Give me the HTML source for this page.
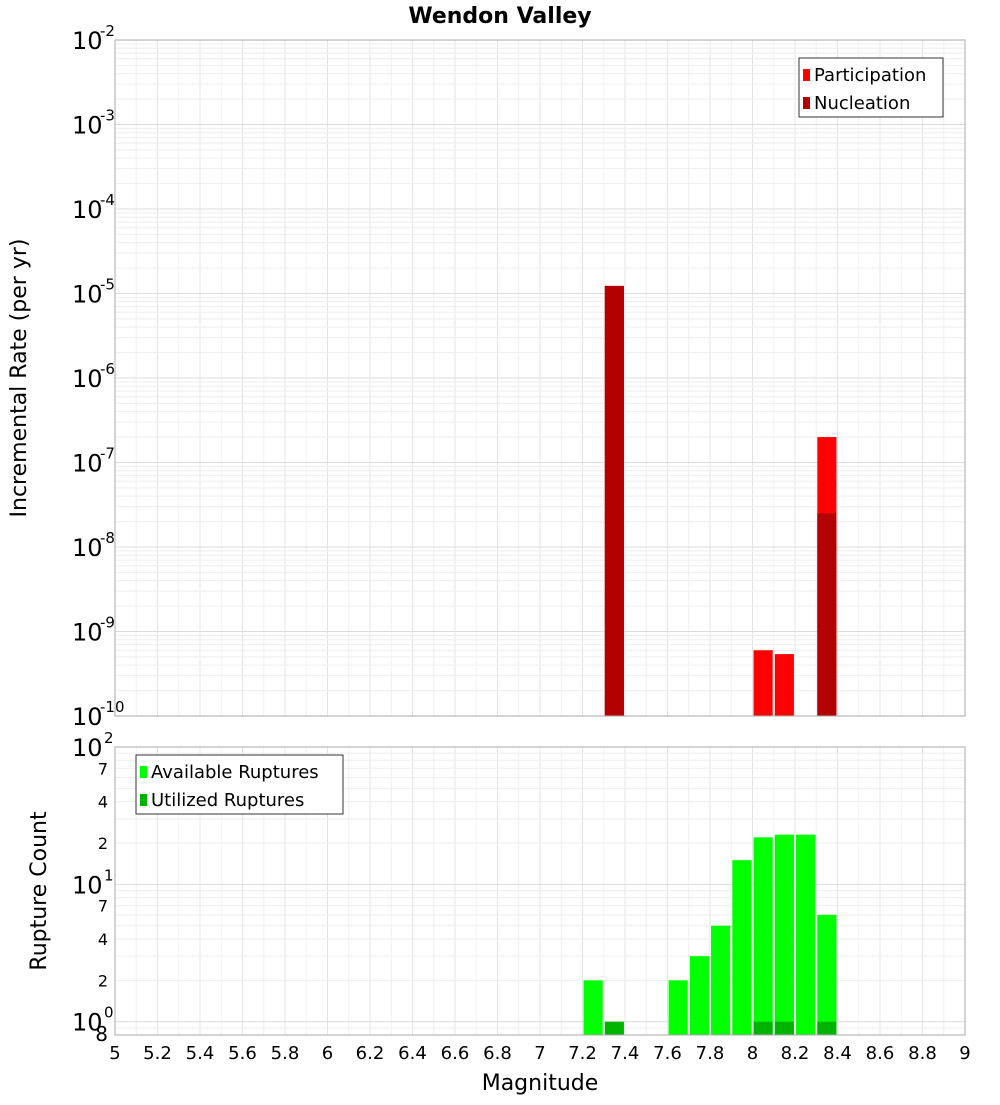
<!DOCTYPE html>
<html><head><meta charset="utf-8"><style>
body{margin:0;background:#fff;font-family:"Liberation Sans","DejaVu Sans",sans-serif}
svg text{font-family:"DejaVu Sans","Liberation Sans",sans-serif}
</style></head><body>
<svg id="c" width="1000" height="1100" xmlns="http://www.w3.org/2000/svg">
<text x="500" y="23" text-anchor="middle" font-size="22" font-weight="bold">Wendon Valley</text>
<text transform="translate(26,378) rotate(-90)" text-anchor="middle" font-size="22">Incremental Rate (per yr)</text>
<text transform="translate(46,891) rotate(-90)" text-anchor="middle" font-size="22">Rupture Count</text>
<text x="540" y="1090" text-anchor="middle" font-size="22">Magnitude</text>
</svg>
<script>
const magBins=[7.35,8.05,8.15,8.35];
const participation=[1.23e-5,6e-10,5.4e-10,2e-7];
const nucleation=[1.23e-5,0,0,2.5e-8];
const countBins=[7.25,7.35,7.65,7.75,7.85,7.95,8.05,8.15,8.25,8.35];
const available=[2,0,2,3,5,15,22,23,23,6];
const utilized=[0,1,0,0,0,0,1,1,0,1];
const xTicks=[5,5.2,5.4,5.6,5.8,6,6.2,6.4,6.6,6.8,7,7.2,7.4,7.6,7.8,8,8.2,8.4,8.6,8.8,9];
const topExps=[-2,-3,-4,-5,-6,-7,-8,-9,-10];

const svg=document.getElementById('c'),NS='http://www.w3.org/2000/svg';
function el(t,a,p){const e=document.createElementNS(NS,t);for(const k in a)e.setAttribute(k,a[k]);(p||svg).appendChild(e);return e;}
const X0=115,X1=965;
const x=m=>X0+(m-5)/4*(X1-X0);
const T0=40,T1=716;const yT=v=>T0+(-2-Math.log10(v))/8*(T1-T0);
const B0=747,B1=1035;const lb=Math.log10(0.8);const yB=v=>B0+(2-Math.log10(v))/(2-lb)*(B1-B0);
const BW=0.09;

// grids
function grid(top,bot,yfun,lo,hi){
  for(let m=5;m<=9.001;m+=0.1){const g=el('line',{x1:x(m),x2:x(m),y1:top,y2:bot,stroke:Math.abs(m*5-Math.round(m*5))<1e-6?'#e4e4e4':'#f0f0f0','stroke-width':1});
  }
  for(let e=lo;e<hi;e++)for(let k=1;k<10;k++){const v=k*Math.pow(10,e);const yy=yfun(v);if(yy<top-0.5||yy>bot+0.5)continue;
    const g=el('line',{x1:X0,x2:X1,y1:yy,y2:yy,stroke:k==1?'#dcdcdc':'#eeeeee','stroke-width':1});
    }
}
grid(T0,T1,yT,-10,-2);grid(B0,B1,yB,-1,2);

// top bars
magBins.forEach((m,i)=>{
  if(participation[i]>0){const r=el('rect',{x:x(m-BW/2),width:x(m+BW/2)-x(m-BW/2),y:yT(participation[i]),height:T1-yT(participation[i]),fill:'#ff0000'});
  }
  if(nucleation[i]>0){const r=el('rect',{x:x(m-BW/2),width:x(m+BW/2)-x(m-BW/2),y:yT(nucleation[i]),height:T1-yT(nucleation[i]),fill:'#b30000'});
  }
});
countBins.forEach((m,i)=>{
  if(available[i]>0){const r=el('rect',{x:x(m-BW/2),width:x(m+BW/2)-x(m-BW/2),y:yB(available[i]),height:B1-yB(available[i]),fill:'#00ff00'});
  }
  if(utilized[i]>0){const r=el('rect',{x:x(m-BW/2),width:x(m+BW/2)-x(m-BW/2),y:yB(utilized[i]),height:B1-yB(utilized[i]),fill:'#00b300'});
  }
});

// frames
let f=el('rect',{x:X0,y:T0,width:X1-X0,height:T1-T0,fill:'none',stroke:'#aaa'});

f=el('rect',{x:X0,y:B0,width:X1-X0,height:B1-B0,fill:'none',stroke:'#aaa'});


// top y ticks
topExps.forEach(e=>{const yy=yT(Math.pow(10,e));
  const t=el('text',{x:72,y:yy+9,'font-size':24});t.textContent='10';
  
  const s=el('text',{x:100,y:yy-4,'font-size':15});s.textContent=String(e);
  
});
// bottom y ticks
[[1,0],[10,1],[100,2]].forEach(([v,e])=>{const yy=yB(v);
  const t=el('text',{x:72,y:yy+9,'font-size':24});t.textContent='10';
  
  const s=el('text',{x:104,y:yy-4,'font-size':15});s.textContent=String(e);
  
});
[[70,'7'],[40,'4'],[20,'2'],[7,'7'],[4,'4'],[2,'2'],[0.8,'8']].forEach(([v,l])=>{
  const t=el('text',{x:108,y:yB(v)+6,'font-size':v==0.8?20:16,'text-anchor':'end'});t.textContent=l;
  
});
// x ticks
xTicks.forEach(m=>{const t=el('text',{x:x(m),y:1059,'font-size':18,'text-anchor':'middle'});t.textContent=String(m);
  });

// legends
function legend(lx,ly,w,items,name){
  const g=el('g',{});
  el('rect',{x:lx,y:ly,width:w,height:59,fill:'#fff',stroke:'#333'},g);
  items.forEach(([c,l],i)=>{el('rect',{x:lx+4,y:ly+11+i*28,width:7,height:12,fill:c},g);
    const t=el('text',{x:lx+15,y:ly+23+i*28,'font-size':18},g);t.textContent=l;
    });
}
legend(799,58,144,[['#ff0000','Participation'],['#b30000','Nucleation']],'top-legend');
legend(136,755,207,[['#00ff00','Available Ruptures'],['#00b300','Utilized Ruptures']],'bottom-legend');
</script>
</body></html>
